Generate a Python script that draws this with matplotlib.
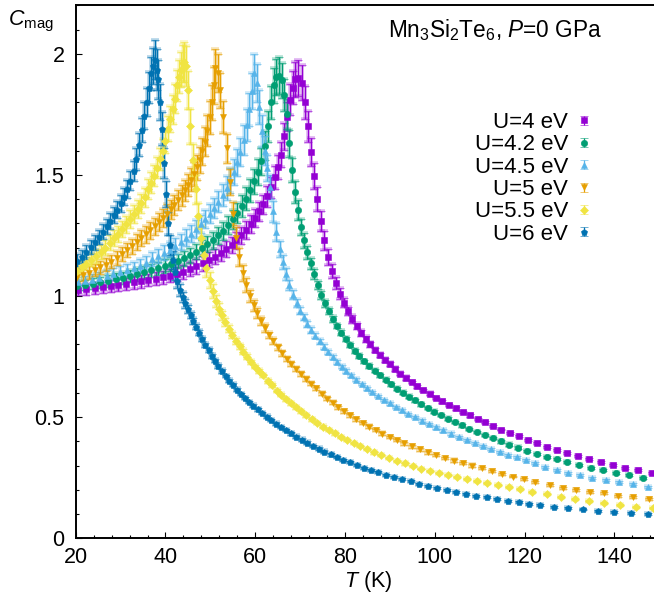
import matplotlib
matplotlib.use("Agg")
import matplotlib.pyplot as plt
from matplotlib.ticker import MultipleLocator
from matplotlib.container import ErrorbarContainer
from matplotlib.legend_handler import HandlerErrorbar

plt.rcParams['font.family'] = ['Liberation Sans', 'DejaVu Sans']
plt.rcParams['mathtext.fontset'] = 'custom'
plt.rcParams['mathtext.rm'] = 'Liberation Sans'
plt.rcParams['mathtext.it'] = 'Liberation Sans:italic'
plt.rcParams['mathtext.bf'] = 'Liberation Sans:bold'

# ---- data: T (K), C_mag, error ----
# U = 4 eV
T_u40 = [20.6, 22.4, 24.2, 26.0, 27.8, 29.5, 31.2, 32.9, 34.6, 36.2,
         37.8, 39.4, 41.0, 42.5, 44.0, 45.5, 46.9, 48.3, 49.7, 51.0,
         52.3, 53.5, 54.7, 55.8, 56.9, 58.0, 59.0, 60.0, 60.9, 61.8,
         62.7, 63.5, 64.3, 65.0, 65.7, 66.4, 67.1, 67.7, 68.3, 68.9,
         69.6, 70.3, 71.0, 71.7, 72.4, 73.1, 73.8, 74.6, 75.4, 76.2,
         77.0, 77.9, 78.8, 79.7, 80.6, 81.6, 82.6, 83.6, 84.6, 85.6,
         86.6, 87.7, 88.8, 89.9, 91.1, 92.3, 93.5, 94.8, 96.1, 97.4,
         98.8, 100.2, 101.6, 103.1, 104.6, 106.2, 107.8, 109.5, 111.2, 113.0,
         114.8, 116.7, 118.7, 120.7, 122.8, 124.9, 127.1, 129.4, 131.8, 134.3,
         136.9, 139.6, 142.4, 145.3, 148.3]
C_u40 = [1.025, 1.028, 1.032, 1.036, 1.041, 1.046, 1.051, 1.056, 1.061, 1.066,
         1.071, 1.077, 1.084, 1.092, 1.101, 1.111, 1.122, 1.135, 1.149, 1.163,
         1.178, 1.194, 1.211, 1.230, 1.250, 1.272, 1.296, 1.322, 1.349, 1.378,
         1.412, 1.448, 1.490, 1.534, 1.584, 1.660, 1.740, 1.810, 1.860, 1.895,
         1.900, 1.880, 1.800, 1.700, 1.595, 1.495, 1.400, 1.310, 1.230, 1.160,
         1.105, 1.055, 1.010, 0.972, 0.938, 0.905, 0.875, 0.848, 0.823, 0.800,
         0.778, 0.757, 0.737, 0.718, 0.698, 0.680, 0.662, 0.645, 0.628, 0.612,
         0.596, 0.580, 0.565, 0.550, 0.536, 0.521, 0.507, 0.493, 0.479, 0.463,
         0.449, 0.435, 0.421, 0.407, 0.392, 0.378, 0.364, 0.352, 0.339, 0.326,
         0.314, 0.303, 0.291, 0.281, 0.271]
E_u40 = [0.022, 0.022, 0.023, 0.023, 0.024, 0.024, 0.025, 0.025, 0.026, 0.026,
         0.027, 0.027, 0.028, 0.028, 0.029, 0.029, 0.030, 0.030, 0.031, 0.031,
         0.032, 0.032, 0.033, 0.034, 0.035, 0.036, 0.037, 0.038, 0.040, 0.041,
         0.043, 0.045, 0.047, 0.050, 0.053, 0.056, 0.060, 0.064, 0.068, 0.072,
         0.075, 0.072, 0.068, 0.063, 0.058, 0.053, 0.048, 0.043, 0.038, 0.033,
         0.029, 0.025, 0.022, 0.019, 0.017, 0.015, 0.013, 0.012, 0.011, 0.010,
         0.009, 0.009, 0.008, 0.008, 0.007, 0.007, 0.007, 0.006, 0.006, 0.006,
         0.006, 0.005, 0.005, 0.005, 0.005, 0.005, 0.005, 0.005, 0.005, 0.005,
         0.004, 0.004, 0.004, 0.004, 0.004, 0.004, 0.004, 0.004, 0.004, 0.004,
         0.004, 0.004, 0.004, 0.004, 0.004]

# U = 4.2 eV
T_u42 = [20.4, 22.1, 23.8, 25.5, 27.2, 28.9, 30.5, 32.1, 33.7, 35.3,
         36.8, 38.3, 39.8, 41.3, 42.7, 44.1, 45.5, 46.8, 48.1, 49.3,
         50.5, 51.7, 52.8, 53.9, 55.0, 56.0, 57.0, 57.9, 58.8, 59.7,
         60.5, 61.3, 62.1, 62.8, 63.5, 64.1, 64.7, 65.3, 65.9, 66.5,
         67.0, 67.6, 68.2, 68.8, 69.4, 70.1, 70.8, 71.5, 72.3, 73.1,
         73.9, 74.7, 75.5, 76.4, 77.3, 78.2, 79.1, 80.1, 81.1, 82.1,
         83.2, 84.3, 85.4, 86.6, 87.8, 89.0, 90.3, 91.6, 92.9, 94.2,
         95.6, 97.0, 98.4, 99.9, 101.4, 102.9, 104.5, 106.1, 107.7, 109.4,
         111.1, 112.9, 114.7, 116.6, 118.6, 120.6, 122.7, 124.9, 127.1, 129.5,
         132.1, 134.8, 137.5, 140.3, 143.3, 146.4, 149.6]
C_u42 = [1.040, 1.045, 1.050, 1.056, 1.062, 1.069, 1.076, 1.083, 1.090, 1.098,
         1.106, 1.114, 1.123, 1.133, 1.144, 1.156, 1.169, 1.183, 1.198, 1.214,
         1.231, 1.250, 1.270, 1.292, 1.317, 1.343, 1.372, 1.402, 1.436, 1.473,
         1.512, 1.556, 1.620, 1.700, 1.800, 1.870, 1.905, 1.910, 1.890, 1.830,
         1.750, 1.630, 1.520, 1.430, 1.355, 1.285, 1.230, 1.180, 1.135, 1.090,
         1.045, 1.005, 0.970, 0.937, 0.905, 0.876, 0.849, 0.822, 0.797, 0.774,
         0.752, 0.731, 0.711, 0.691, 0.672, 0.654, 0.636, 0.618, 0.601, 0.585,
         0.569, 0.553, 0.538, 0.523, 0.508, 0.494, 0.480, 0.466, 0.452, 0.439,
         0.426, 0.413, 0.400, 0.387, 0.374, 0.361, 0.349, 0.337, 0.326, 0.314,
         0.303, 0.292, 0.281, 0.270, 0.260, 0.248, 0.238]
E_u42 = [0.022, 0.022, 0.023, 0.023, 0.024, 0.024, 0.025, 0.025, 0.026, 0.026,
         0.027, 0.027, 0.028, 0.028, 0.029, 0.030, 0.031, 0.032, 0.033, 0.034,
         0.035, 0.036, 0.037, 0.038, 0.040, 0.042, 0.044, 0.046, 0.048, 0.050,
         0.053, 0.056, 0.060, 0.064, 0.068, 0.072, 0.075, 0.075, 0.072, 0.067,
         0.062, 0.056, 0.050, 0.045, 0.040, 0.035, 0.031, 0.027, 0.024, 0.021,
         0.018, 0.016, 0.014, 0.012, 0.011, 0.010, 0.009, 0.009, 0.008, 0.008,
         0.007, 0.007, 0.007, 0.006, 0.006, 0.006, 0.006, 0.005, 0.005, 0.005,
         0.005, 0.005, 0.005, 0.005, 0.005, 0.005, 0.005, 0.005, 0.005, 0.005,
         0.005, 0.005, 0.005, 0.005, 0.005, 0.004, 0.004, 0.004, 0.004, 0.004,
         0.004, 0.004, 0.004, 0.004, 0.004, 0.004, 0.004]

# U = 4.5 eV
T_u45 = [20.5, 22.1, 23.7, 25.3, 26.9, 28.4, 29.9, 31.4, 32.9, 34.3,
         35.7, 37.1, 38.4, 39.7, 41.0, 42.2, 43.4, 44.6, 45.7, 46.8,
         47.9, 48.9, 49.9, 50.9, 51.8, 52.7, 53.6, 54.4, 55.2, 56.0,
         56.7, 57.4, 58.1, 58.7, 59.2, 59.7, 60.3, 60.9, 61.5, 62.1,
         62.7, 63.3, 64.0, 64.7, 65.4, 66.1, 66.8, 67.6, 68.4, 69.2,
         70.0, 70.8, 71.6, 72.5, 73.4, 74.3, 75.2, 76.2, 77.2, 78.2,
         79.2, 80.3, 81.4, 82.5, 83.7, 84.9, 86.1, 87.4, 88.7, 90.0,
         91.3, 92.7, 94.1, 95.6, 97.1, 98.7, 100.3, 101.9, 103.6, 105.3,
         107.1, 108.9, 110.7, 112.5, 114.4, 116.3, 118.2, 120.2, 122.3, 124.5,
         127.1, 129.7, 132.3, 135.1, 138.1, 141.1, 144.2, 147.4]
C_u45 = [1.056, 1.062, 1.068, 1.075, 1.082, 1.090, 1.098, 1.107, 1.116, 1.126,
         1.138, 1.152, 1.165, 1.178, 1.192, 1.207, 1.223, 1.240, 1.258, 1.277,
         1.297, 1.318, 1.340, 1.364, 1.389, 1.416, 1.446, 1.477, 1.512, 1.552,
         1.595, 1.645, 1.705, 1.770, 1.845, 1.920, 1.880, 1.780, 1.680, 1.600,
         1.530, 1.450, 1.350, 1.265, 1.195, 1.140, 1.090, 1.045, 1.005, 0.970,
         0.940, 0.912, 0.886, 0.860, 0.836, 0.813, 0.791, 0.769, 0.748, 0.728,
         0.709, 0.690, 0.672, 0.655, 0.637, 0.620, 0.604, 0.588, 0.572, 0.557,
         0.543, 0.528, 0.514, 0.500, 0.486, 0.472, 0.458, 0.445, 0.432, 0.419,
         0.406, 0.393, 0.381, 0.369, 0.357, 0.345, 0.334, 0.323, 0.310, 0.296,
         0.282, 0.271, 0.262, 0.250, 0.241, 0.231, 0.223, 0.213]
E_u45 = [0.022, 0.022, 0.023, 0.023, 0.024, 0.024, 0.025, 0.025, 0.026, 0.027,
         0.028, 0.029, 0.030, 0.031, 0.032, 0.033, 0.034, 0.035, 0.036, 0.037,
         0.038, 0.039, 0.040, 0.042, 0.044, 0.046, 0.048, 0.050, 0.053, 0.056,
         0.059, 0.062, 0.066, 0.070, 0.075, 0.080, 0.078, 0.072, 0.066, 0.060,
         0.054, 0.048, 0.043, 0.038, 0.033, 0.029, 0.025, 0.022, 0.019, 0.017,
         0.015, 0.013, 0.012, 0.011, 0.010, 0.009, 0.009, 0.008, 0.008, 0.007,
         0.007, 0.007, 0.006, 0.006, 0.006, 0.006, 0.005, 0.005, 0.005, 0.005,
         0.005, 0.005, 0.005, 0.005, 0.005, 0.005, 0.005, 0.005, 0.005, 0.005,
         0.005, 0.005, 0.005, 0.005, 0.005, 0.005, 0.004, 0.004, 0.004, 0.004,
         0.004, 0.004, 0.004, 0.004, 0.004, 0.004, 0.004, 0.004]

# U = 5 eV
T_u50 = [20.3, 21.6, 22.9, 24.2, 25.5, 26.7, 27.9, 29.1, 30.3, 31.4,
         32.5, 33.6, 34.6, 35.6, 36.6, 37.6, 38.5, 39.4, 40.3, 41.2,
         42.0, 42.8, 43.6, 44.3, 45.0, 45.7, 46.4, 47.0, 47.6, 48.2,
         48.8, 49.3, 49.8, 50.3, 50.7, 51.1, 51.6, 52.2, 52.9, 53.6,
         54.3, 55.0, 55.7, 56.4, 57.2, 58.0, 58.8, 59.6, 60.4, 61.3,
         62.2, 63.1, 64.0, 65.0, 66.0, 67.0, 68.0, 69.1, 70.2, 71.3,
         72.4, 73.6, 74.8, 76.0, 77.2, 78.5, 79.8, 81.1, 82.5, 83.9,
         85.3, 86.8, 88.3, 89.9, 91.5, 93.1, 94.8, 96.6, 98.4, 100.3,
         102.2, 104.2, 106.2, 108.3, 110.5, 112.7, 115.0, 117.3, 119.8, 122.3,
         125.6, 128.6, 131.4, 134.5, 137.7, 140.8, 144.2, 147.7]
C_u50 = [1.078, 1.087, 1.097, 1.107, 1.118, 1.130, 1.142, 1.158, 1.175, 1.190,
         1.206, 1.222, 1.238, 1.254, 1.271, 1.288, 1.305, 1.322, 1.340, 1.358,
         1.377, 1.396, 1.416, 1.436, 1.457, 1.480, 1.505, 1.532, 1.562, 1.597,
         1.637, 1.682, 1.737, 1.800, 1.870, 1.940, 1.920, 1.850, 1.740, 1.610,
         1.470, 1.340, 1.240, 1.160, 1.095, 1.045, 1.000, 0.962, 0.930, 0.898,
         0.868, 0.840, 0.814, 0.788, 0.764, 0.741, 0.720, 0.698, 0.677, 0.657,
         0.638, 0.619, 0.596, 0.577, 0.559, 0.541, 0.524, 0.507, 0.491, 0.476,
         0.461, 0.446, 0.432, 0.418, 0.405, 0.392, 0.379, 0.367, 0.355, 0.343,
         0.332, 0.321, 0.310, 0.300, 0.290, 0.278, 0.266, 0.255, 0.244, 0.232,
         0.220, 0.209, 0.200, 0.193, 0.186, 0.176, 0.169, 0.162]
E_u50 = [0.024, 0.024, 0.025, 0.025, 0.026, 0.026, 0.027, 0.028, 0.029, 0.030,
         0.031, 0.032, 0.033, 0.034, 0.035, 0.036, 0.037, 0.038, 0.039, 0.040,
         0.041, 0.042, 0.043, 0.044, 0.046, 0.048, 0.050, 0.052, 0.054, 0.057,
         0.060, 0.064, 0.068, 0.072, 0.076, 0.080, 0.078, 0.072, 0.066, 0.060,
         0.054, 0.048, 0.043, 0.038, 0.033, 0.029, 0.025, 0.022, 0.019, 0.017,
         0.015, 0.013, 0.012, 0.011, 0.010, 0.009, 0.009, 0.008, 0.008, 0.007,
         0.007, 0.007, 0.006, 0.006, 0.006, 0.006, 0.005, 0.005, 0.005, 0.005,
         0.005, 0.005, 0.005, 0.005, 0.005, 0.005, 0.005, 0.005, 0.005, 0.005,
         0.005, 0.005, 0.005, 0.005, 0.005, 0.005, 0.004, 0.004, 0.004, 0.004,
         0.004, 0.004, 0.004, 0.004, 0.004, 0.004, 0.004, 0.004]

# U = 5.5 eV
T_u55 = [20.2, 21.3, 22.4, 23.5, 24.6, 25.6, 26.6, 27.6, 28.6, 29.5,
         30.4, 31.3, 32.2, 33.0, 33.8, 34.6, 35.4, 36.1, 36.8, 37.5,
         38.2, 38.8, 39.4, 40.0, 40.6, 41.1, 41.6, 42.1, 42.6, 43.0,
         43.4, 43.8, 44.1, 44.5, 45.0, 45.5, 46.1, 46.7, 47.3, 47.9,
         48.5, 49.1, 49.8, 50.5, 51.2, 51.9, 52.6, 53.3, 54.1, 54.9,
         55.7, 56.5, 57.3, 58.2, 59.1, 60.0, 60.9, 61.8, 62.8, 63.8,
         64.8, 65.8, 66.9, 68.0, 69.1, 70.2, 71.4, 72.6, 73.8, 75.1,
         76.4, 77.7, 79.1, 80.5, 81.9, 83.4, 84.9, 86.5, 88.1, 89.8,
         91.5, 93.3, 95.1, 97.0, 98.9, 100.9, 102.9, 105.0, 107.2, 109.4,
         111.7, 114.1, 116.5, 119.0, 121.6, 124.9, 128.0, 131.2, 134.4, 137.7,
         141.2, 144.8, 148.5]
C_u55 = [1.103, 1.118, 1.133, 1.149, 1.166, 1.182, 1.200, 1.219, 1.239, 1.258,
         1.277, 1.297, 1.318, 1.338, 1.360, 1.383, 1.407, 1.440, 1.468, 1.497,
         1.530, 1.565, 1.600, 1.640, 1.690, 1.730, 1.770, 1.815, 1.870, 1.905,
         1.935, 1.960, 1.965, 1.950, 1.850, 1.700, 1.560, 1.440, 1.330, 1.240,
         1.170, 1.115, 1.065, 1.020, 0.980, 0.948, 0.920, 0.892, 0.865, 0.840,
         0.815, 0.792, 0.771, 0.750, 0.729, 0.709, 0.690, 0.673, 0.650, 0.632,
         0.610, 0.592, 0.574, 0.557, 0.540, 0.524, 0.507, 0.491, 0.476, 0.461,
         0.447, 0.433, 0.419, 0.406, 0.393, 0.380, 0.368, 0.355, 0.343, 0.332,
         0.320, 0.309, 0.299, 0.288, 0.278, 0.269, 0.260, 0.252, 0.244, 0.236,
         0.228, 0.219, 0.211, 0.202, 0.193, 0.182, 0.172, 0.163, 0.154, 0.146,
         0.139, 0.131, 0.124]
E_u55 = [0.026, 0.026, 0.027, 0.027, 0.028, 0.029, 0.030, 0.031, 0.032, 0.033,
         0.034, 0.035, 0.036, 0.037, 0.038, 0.039, 0.040, 0.041, 0.042, 0.043,
         0.044, 0.046, 0.048, 0.050, 0.052, 0.055, 0.058, 0.061, 0.065, 0.069,
         0.073, 0.078, 0.082, 0.082, 0.078, 0.072, 0.066, 0.060, 0.054, 0.048,
         0.043, 0.038, 0.033, 0.029, 0.025, 0.022, 0.019, 0.017, 0.015, 0.013,
         0.012, 0.011, 0.010, 0.009, 0.009, 0.008, 0.008, 0.007, 0.007, 0.007,
         0.006, 0.006, 0.006, 0.005, 0.005, 0.005, 0.005, 0.005, 0.005, 0.005,
         0.005, 0.005, 0.005, 0.005, 0.005, 0.005, 0.005, 0.005, 0.005, 0.005,
         0.005, 0.005, 0.005, 0.004, 0.004, 0.004, 0.004, 0.004, 0.004, 0.004,
         0.004, 0.004, 0.004, 0.004, 0.004, 0.004, 0.004, 0.004, 0.004, 0.004,
         0.004, 0.004, 0.004]

# U = 6 eV
T_u60 = [20.3, 21.3, 22.3, 23.3, 24.2, 25.1, 26.0, 26.9, 27.7, 28.5,
         29.3, 30.1, 30.8, 31.5, 32.2, 32.9, 33.5, 34.1, 34.7, 35.3,
         35.8, 36.3, 36.8, 37.2, 37.6, 38.0, 38.4, 38.8, 39.2, 39.6,
         40.1, 40.6, 41.1, 41.6, 42.1, 42.6, 43.2, 43.8, 44.4, 45.0,
         45.6, 46.2, 46.8, 47.5, 48.2, 48.9, 49.6, 50.3, 51.0, 51.8,
         52.6, 53.4, 54.2, 55.0, 55.9, 56.8, 57.7, 58.6, 59.5, 60.5,
         61.5, 62.5, 63.5, 64.6, 65.7, 66.8, 67.9, 69.1, 70.3, 71.5,
         72.8, 74.1, 75.4, 76.8, 78.2, 79.6, 81.1, 82.6, 84.2, 85.8,
         87.4, 89.1, 90.9, 92.7, 94.6, 96.5, 98.5, 100.5, 102.6, 104.7,
         106.9, 109.2, 111.5, 113.9, 116.3, 118.7, 121.0, 123.4, 126.5, 129.7,
         133.0, 136.4, 139.9, 143.6, 147.4]
C_u60 = [1.145, 1.163, 1.182, 1.202, 1.222, 1.243, 1.265, 1.288, 1.310, 1.333,
         1.357, 1.382, 1.410, 1.440, 1.475, 1.515, 1.565, 1.625, 1.685, 1.745,
         1.800, 1.860, 1.920, 1.950, 1.975, 1.935, 1.895, 1.800, 1.690, 1.550,
         1.420, 1.300, 1.210, 1.150, 1.100, 1.060, 1.025, 0.995, 0.970, 0.945,
         0.922, 0.898, 0.874, 0.848, 0.823, 0.799, 0.776, 0.754, 0.733, 0.711,
         0.690, 0.670, 0.651, 0.633, 0.614, 0.596, 0.579, 0.563, 0.548, 0.532,
         0.517, 0.502, 0.488, 0.473, 0.459, 0.446, 0.433, 0.420, 0.407, 0.395,
         0.382, 0.370, 0.358, 0.346, 0.335, 0.324, 0.313, 0.302, 0.292, 0.282,
         0.272, 0.263, 0.253, 0.244, 0.235, 0.226, 0.217, 0.209, 0.200, 0.192,
         0.184, 0.176, 0.169, 0.162, 0.155, 0.149, 0.143, 0.137, 0.130, 0.124,
         0.119, 0.114, 0.108, 0.103, 0.099]
E_u60 = [0.028, 0.028, 0.029, 0.029, 0.030, 0.030, 0.031, 0.031, 0.032, 0.033,
         0.034, 0.035, 0.036, 0.037, 0.039, 0.041, 0.044, 0.047, 0.050, 0.054,
         0.058, 0.063, 0.068, 0.074, 0.080, 0.085, 0.080, 0.074, 0.068, 0.061,
         0.054, 0.048, 0.042, 0.037, 0.032, 0.028, 0.024, 0.021, 0.018, 0.016,
         0.014, 0.012, 0.011, 0.010, 0.009, 0.009, 0.008, 0.008, 0.007, 0.007,
         0.007, 0.006, 0.006, 0.006, 0.006, 0.005, 0.005, 0.005, 0.005, 0.005,
         0.005, 0.005, 0.005, 0.005, 0.005, 0.005, 0.005, 0.005, 0.005, 0.005,
         0.005, 0.005, 0.005, 0.005, 0.005, 0.004, 0.004, 0.004, 0.004, 0.004,
         0.004, 0.004, 0.004, 0.004, 0.004, 0.004, 0.004, 0.004, 0.004, 0.004,
         0.004, 0.004, 0.004, 0.004, 0.004, 0.004, 0.004, 0.004, 0.004, 0.004,
         0.004, 0.004, 0.004, 0.004, 0.004]

labels = ["U=4 eV", "U=4.2 eV", "U=4.5 eV", "U=5 eV", "U=5.5 eV", "U=6 eV"]
x_ticks = [20, 40, 60, 80, 100, 120, 140]
y_ticks = [0, 0.5, 1, 1.5, 2]
y_tick_labels = ["0", "0.5", "1", "1.5", "2"]

# gnuplot default palette and point types
colors = ["#9400d3", "#009e73", "#56b4e9", "#e69f00", "#f0e442", "#0072b2"]
markers = ["s", "o", "^", "v", "D", "p"]
msizes = [5.0, 4.6, 4.8, 4.8, 3.6, 5.0]

data = [(T_u40, C_u40, E_u40), (T_u42, C_u42, E_u42), (T_u45, C_u45, E_u45),
        (T_u50, C_u50, E_u50), (T_u55, C_u55, E_u55), (T_u60, C_u60, E_u60)]

W, H = 654, 594
fig = plt.figure(figsize=(W / 100, H / 100), dpi=100)
ax = fig.add_axes([75.7 / W, 1 - 538.3 / H, 583.7 / W, 533 / H])

handles = []
for (T, C, E), lab, col, mk, ms in zip(data, labels, colors, markers, msizes):
    # pale halo under the error bars, like the cairo rendering
    ax.errorbar(T, C, yerr=E, fmt="none", ecolor=col, elinewidth=2.6,
                capsize=2.6, capthick=2.6, alpha=0.3)
    h = ax.errorbar(T, C, yerr=E, fmt=mk, color=col, ms=ms, mew=0.4,
                    elinewidth=0.9, capsize=2.6, capthick=0.9, label=lab)
    handles.append(h)

ax.set_xlim(20, 150)
ax.set_ylim(0, 2.2)
ax.set_xticks(x_ticks)
ax.set_xticklabels([str(v) for v in x_ticks])
ax.set_yticks(y_ticks)
ax.set_yticklabels(y_tick_labels)
ax.xaxis.set_minor_locator(MultipleLocator(4))
ax.yaxis.set_minor_locator(MultipleLocator(0.1))
ax.tick_params(which="both", direction="in", top=False, right=False,
               labelsize=15.5, width=0.8)
ax.tick_params(which="major", length=4.3)
ax.tick_params(which="minor", length=2.4)
ax.tick_params(axis="x", pad=6)
ax.tick_params(axis="y", pad=8)
for sp in ax.spines.values():
    sp.set_linewidth(1.4)

fig.text(8 / W, 1 - 25 / H, r"$C_{\mathrm{mag}}$", fontsize=15.5,
         ha="left", va="baseline")
fig.text(368 / W, 1 - 587 / H, r"$T$ (K)", fontsize=15.5,
         ha="center", va="baseline")
fig.text(495 / W, 1 - 37 / H, r"Mn$_3$Si$_2$Te$_6$, $P$=0 GPa", fontsize=16.3,
         ha="center", va="baseline")

ax.legend(handles, labels, loc="upper right",
          bbox_to_anchor=(591 / W, 1 - 112 / H), bbox_transform=fig.transFigure,
          frameon=False, markerfirst=False, fontsize=16, handlelength=0.6,
          handletextpad=0.42, labelspacing=0.06, borderpad=0, borderaxespad=0,
          handler_map={ErrorbarContainer: HandlerErrorbar(yerr_size=0.2)})

fig.savefig("out.png", dpi=100)
